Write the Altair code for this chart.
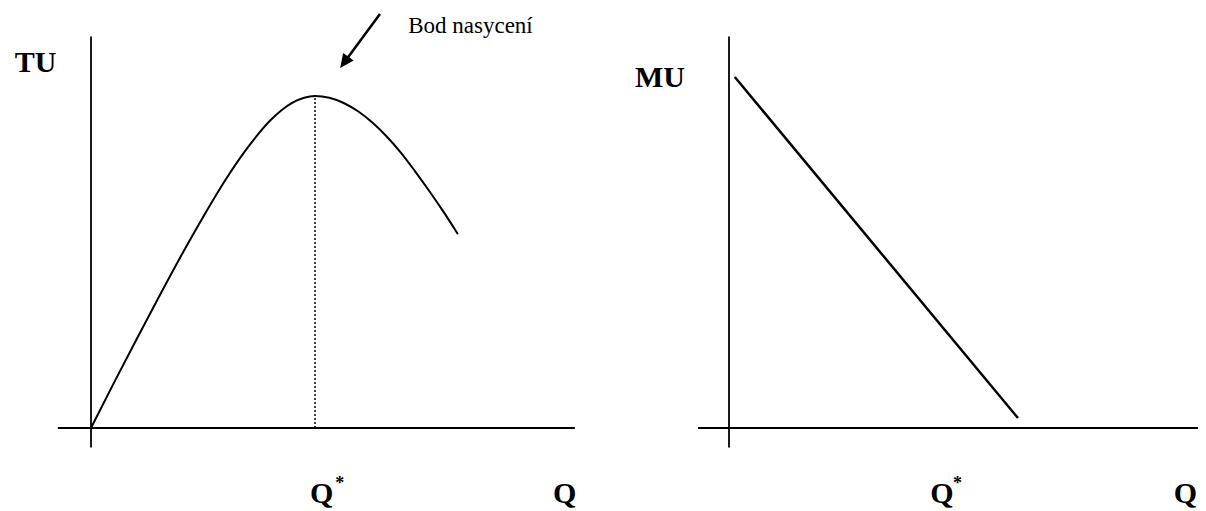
import altair as alt
import pandas as pd

# ---------------- data (chart units: Q on x, utility on y) ----------------
# Total utility curve (left panel)
tu_q = [0.0, 0.5, 1.0, 1.5, 2.0, 2.5, 3.0, 3.5, 4.0, 4.5, 5.0, 5.32, 5.64, 5.96,
        6.28, 6.60, 6.92, 7.23, 7.55, 7.87, 8.19]
tu_u = [0.0, 1.33, 2.63, 3.91, 5.16, 6.35, 7.47, 8.45, 9.26, 9.80, 10.0, 9.95, 9.79, 9.54,
        9.20, 8.78, 8.29, 7.74, 7.14, 6.51, 5.84]
q_star = 5.0
tu_max = 10.0

# Marginal utility line (right panel)
mu_q = [0.13, 6.45]
mu_u = [10.57, 0.30]

# Axis extents (chart units)
left_vaxis = [-0.59, 11.79]
left_haxis = [-0.74, 10.80]
right_vaxis = [-0.59, 11.79]
right_haxis = [-0.69, 10.80]

# Arrow pointing at the saturation point
arrow_from = [6.45, 12.47]
arrow_head = [5.68, 11.06]

# Labels
left_bold_text = ["TU", "Q", "Q"]
left_bold_q = [-1.70, 4.89, 10.31]
left_bold_u = [10.72, -2.26, -2.26]
left_sup_text = ["*"]
left_sup_q = [5.45]
left_sup_u = [-1.84]
note_text = ["Bod nasycení"]
note_q = [7.08]
note_u = [11.90]

right_bold_text = ["MU", "Q", "Q"]
right_bold_q = [-2.10, 4.49, 9.93]
right_bold_u = [10.27, -2.26, -2.26]
right_sup_text = ["*"]
right_sup_q = [5.00]
right_sup_u = [-1.84]

# ---------------- layout ----------------
W1, W2, H = 620, 570, 503
PX_Q, PX_U = 44.8, 33.2          # pixels per unit
LEFT_ORIGIN_X, RIGHT_ORIGIN_X, ORIGIN_Y = 83, 101, 420
FONT = "Liberation Serif"

ydom = [(ORIGIN_Y - H) / PX_U, ORIGIN_Y / PX_U]


def scales(width, origin_x):
    xs = alt.Scale(domain=[-origin_x / PX_Q, (width - origin_x) / PX_Q], nice=False, zero=False)
    ys = alt.Scale(domain=ydom, nice=False, zero=False)
    return xs, ys


def axes_layer(vaxis, haxis, xs, ys, clip=False):
    df = pd.DataFrame({
        "x": [0.0, haxis[0]], "x2": [0.0, haxis[1]],
        "y": [vaxis[0], 0.0], "y2": [vaxis[1], 0.0],
    })
    return alt.Chart(df).mark_rule(color="black", strokeWidth=1.8, clip=clip).encode(
        x=alt.X("x:Q", scale=xs, axis=None), x2="x2",
        y=alt.Y("y:Q", scale=ys, axis=None), y2="y2")


def text_layer(texts, qs, us, xs, ys, size, weight, clip=False):
    df = pd.DataFrame({"q": qs, "u": us, "t": texts})
    return alt.Chart(df).mark_text(font=FONT, fontSize=size, fontWeight=weight, align="left",
                                   baseline="alphabetic", color="black", clip=clip).encode(
        x=alt.X("q:Q", scale=xs, axis=None), y=alt.Y("u:Q", scale=ys, axis=None), text="t:N")


# ---------------- left panel ----------------
xsL, ysL = scales(W1, LEFT_ORIGIN_X)

curve = alt.Chart(pd.DataFrame({"q": tu_q, "u": tu_u})).mark_line(
    color="black", strokeWidth=2, interpolate="monotone").encode(
    x=alt.X("q:Q", scale=xsL, axis=None), y=alt.Y("u:Q", scale=ysL, axis=None))

dotted = alt.Chart(pd.DataFrame({"q": [q_star], "u0": [0.0], "u1": [tu_max]})).mark_rule(
    color="black", strokeWidth=1.5, strokeDash=[2, 2]).encode(
    x=alt.X("q:Q", scale=xsL, axis=None), y=alt.Y("u0:Q", scale=ysL, axis=None), y2="u1")

shaft = alt.Chart(pd.DataFrame({"q": [arrow_from[0]], "u": [arrow_from[1]],
                                "q2": [arrow_head[0]], "u2": [arrow_head[1]]})).mark_rule(
    color="black", strokeWidth=2.5).encode(
    x=alt.X("q:Q", scale=xsL, axis=None), y=alt.Y("u:Q", scale=ysL, axis=None), x2="q2", y2="u2")

head = alt.Chart(pd.DataFrame({"q": [arrow_head[0]], "u": [arrow_head[1]]})).mark_point(
    shape="M0,-0.9L0.65,0.5L-0.65,0.5Z", filled=True, color="black", opacity=1,
    size=400, angle=216).encode(
    x=alt.X("q:Q", scale=xsL, axis=None), y=alt.Y("u:Q", scale=ysL, axis=None))

left = alt.layer(
    axes_layer(left_vaxis, left_haxis, xsL, ysL),
    dotted, curve, shaft, head,
    text_layer(left_bold_text, left_bold_q, left_bold_u, xsL, ysL, 30, "bold"),
    text_layer(left_sup_text, left_sup_q, left_sup_u, xsL, ysL, 18, "bold"),
    text_layer(note_text, note_q, note_u, xsL, ysL, 23, "normal"),
).properties(width=W1, height=H)

# ---------------- right panel ----------------
xsR, ysR = scales(W2, RIGHT_ORIGIN_X)

mu_line = alt.Chart(pd.DataFrame({"q": mu_q, "u": mu_u})).mark_line(
    color="black", strokeWidth=2.5).encode(
    x=alt.X("q:Q", scale=xsR, axis=None), y=alt.Y("u:Q", scale=ysR, axis=None))

right = alt.layer(
    axes_layer(right_vaxis, right_haxis, xsR, ysR, clip=True),
    mu_line,
    text_layer(right_bold_text, right_bold_q, right_bold_u, xsR, ysR, 30, "bold"),
    text_layer(right_sup_text, right_sup_q, right_sup_u, xsR, ysR, 18, "bold"),
).properties(width=W2, height=H)

chart = alt.hconcat(left, right, spacing=0).properties(
    padding=0, background="white"
).resolve_scale(x="independent", y="independent").configure_view(stroke=None)

chart.save("out.html", embed_options={"renderer": "svg", "actions": False})
